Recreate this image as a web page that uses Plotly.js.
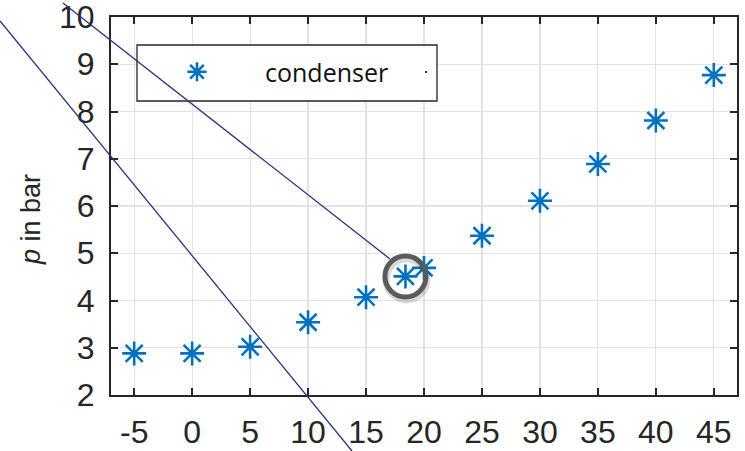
<!DOCTYPE html>
<html>
<head>
<meta charset="utf-8">
<script src="https://cdn.plot.ly/plotly-3.0.1.min.js"></script>
<style>html,body{margin:0;padding:0;background:#fff;}#chart{width:745px;height:451px;}</style>
</head>
<body>
<div id="chart"></div>
<script>
// Data
const temperature = [-5, 0, 5, 10, 15, 18.4, 20, 25, 30, 35, 40, 45];
const pressure    = [2.88, 2.88, 3.02, 3.54, 4.07, 4.51, 4.69, 5.37, 6.11, 6.89, 7.81, 8.77];
const seriesName = 'condenser';
const xTicks = [-5, 0, 5, 10, 15, 20, 25, 30, 35, 40, 45];
const xTickText = ['-5', '0', '5', '10', '15', '20', '25', '30', '35', '40', '45'];
const yTicks = [2, 3, 4, 5, 6, 7, 8, 9, 10];
const yTitle = '<i>p</i> in bar';
const highlightX = 18.4, highlightY = 4.51;

const fontFam = 'Liberation Sans, Arial, sans-serif';
const tickFont = {family: fontFam, size: 32, color: '#262626'};
const axisCommon = {
  showline: true, linecolor: '#262626', linewidth: 2, mirror: 'ticks',
  ticks: 'inside', ticklen: 7, tickwidth: 2, tickcolor: '#262626',
  showgrid: true, gridcolor: '#e3e3e3', gridwidth: 1.2, zeroline: false,
  tickfont: tickFont, ticklabeloverflow: 'allow'
};

const trace = {
  x: temperature, y: pressure, type: 'scatter', mode: 'markers', name: seriesName,
  marker: {symbol: 'asterisk-open', size: 20, color: '#0072BD', line: {color: '#0072BD', width: 2.6}},
  showlegend: true
};

const L = 111, R = 737, T = 17, B = 395;
const px = v => (v - L) / (R - L);
const py = v => (B - v) / (B - T);

const layout = {
  width: 745, height: 451,
  margin: {l: L, r: 745 - R, t: T, b: 451 - B},
  paper_bgcolor: '#fff', plot_bgcolor: '#fff',
  xaxis: Object.assign({}, axisCommon, {range: [-7, 47], tickvals: xTicks, ticktext: xTickText, ticklabelstandoff: 8}),
  yaxis: Object.assign({}, axisCommon, {range: [2, 10], tickvals: yTicks, ticklabelstandoff: 8}),
  showlegend: true,
  legend: {x: px(129), y: py(72), xanchor: 'left', yanchor: 'middle', bgcolor: 'rgba(0,0,0,0)', borderwidth: 0,
    itemwidth: 126, font: {family: 'Open Sans, sans-serif', size: 25, color: '#111'}},
  annotations: [
    {text: yTitle, xref: 'paper', yref: 'paper', x: px(31), y: py(220), xanchor: 'center', yanchor: 'middle',
      textangle: -90, showarrow: false, font: {family: fontFam, size: 27, color: '#262626'}}
  ],
  shapes: [
    {type: 'rect', xref: 'paper', yref: 'paper', x0: px(137), x1: px(437), y0: py(101), y1: py(45),
      line: {color: '#262626', width: 1.3}, fillcolor: '#fff', layer: 'above'},
    {type: 'rect', xref: 'paper', yref: 'paper', x0: px(425), x1: px(427), y0: py(73), y1: py(71),
      line: {width: 0}, fillcolor: '#333', layer: 'above'},
    // shadow of highlight circle
    {type: 'circle', xref: 'x', yref: 'y', xsizemode: 'pixel', ysizemode: 'pixel',
      xanchor: highlightX, yanchor: highlightY, x0: -19.5, x1: 21.5, y0: -23.5, y1: 17.5,
      line: {color: 'rgba(0,0,0,0.15)', width: 7}, layer: 'above'},
    {type: 'circle', xref: 'x', yref: 'y', xsizemode: 'pixel', ysizemode: 'pixel',
      xanchor: highlightX, yanchor: highlightY, x0: -20.5, x1: 20.5, y0: -20.5, y1: 20.5,
      line: {color: '#5b5b5b', width: 5}, layer: 'above'},
    {type: 'line', xref: 'paper', yref: 'paper', x0: px(63), y0: py(3), x1: px(390), y1: py(259),
      line: {color: '#26337f', width: 1.3}, layer: 'above'},
    {type: 'line', xref: 'paper', yref: 'paper', x0: px(0), y0: py(21), x1: px(352), y1: py(451),
      line: {color: '#26337f', width: 1.3}, layer: 'above'}
  ]
};

Plotly.newPlot('chart', [trace], layout, {staticPlot: true, displayModeBar: false});
</script>
</body>
</html>
